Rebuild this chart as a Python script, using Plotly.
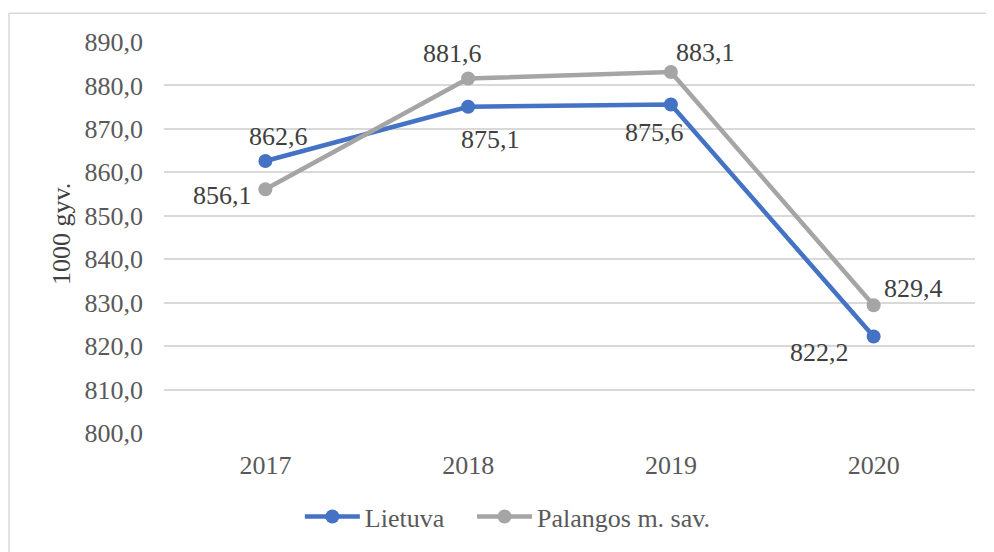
import plotly.graph_objects as go

years = ["2017", "2018", "2019", "2020"]
lietuva = [862.6, 875.1, 875.6, 822.2]
palanga = [856.1, 881.6, 883.1, 829.4]
y_ticks = [800, 810, 820, 830, 840, 850, 860, 870, 880, 890]

BLUE = "#4472C4"
GRAY = "#A5A5A5"
TXT = "#404040"
FONT = "Liberation Serif, Times New Roman, serif"

def fmt(v):
    return f"{v:.1f}".replace(".", ",")

fig = go.Figure()
fig.add_trace(go.Scatter(x=years, y=lietuva, name="Lietuva", mode="lines+markers", legend="legend",
                         line=dict(color=BLUE, width=4.5), marker=dict(size=14, color=BLUE)))
fig.add_trace(go.Scatter(x=years, y=palanga, name="Palangos m. sav.", mode="lines+markers", legend="legend2",
                         line=dict(color=GRAY, width=4.5), marker=dict(size=14, color=GRAY)))

# label offsets (px) for data labels
off_l = [(13, -25), (22, 33), (-16, 28), (-54, 16)]
off_p = [(-43, 6), (-16, -25), (35, -19), (40, -17)]
ann = []
for vals, offs in ((lietuva, off_l), (palanga, off_p)):
    for i, (yv, (dx, dy)) in enumerate(zip(vals, offs)):
        ann.append(dict(x=i, y=yv, xref="x", yref="y", text=fmt(yv), showarrow=False,
                        xanchor="center", yanchor="middle", xshift=dx, yshift=-dy,
                        font=dict(family=FONT, size=26, color=TXT)))
ann.append(dict(x=-0.1258, y=0.509, xref="paper", yref="paper", text="1000 gyv.", textangle=-90,
                xanchor="center", yanchor="middle",
                showarrow=False, font=dict(family=FONT, size=26, color=TXT)))

leg_common = dict(orientation="h", xanchor="left", y=-0.214, yanchor="middle",
                  font=dict(family=FONT, size=26, color="#595959"), itemwidth=55,
                  bgcolor="rgba(0,0,0,0)")

fig.update_layout(
    width=986, height=544,
    margin=dict(l=156, r=19, t=34, b=117),
    paper_bgcolor="white", plot_bgcolor="white",
    font=dict(family=FONT, size=26, color="#595959"),
    separators=",.",
    showlegend=True,
    legend=dict(x=0.1675, **leg_common),
    legend2=dict(x=0.3798, **leg_common),
    annotations=ann,
    shapes=[dict(type="rect", xref="paper", yref="paper", x0=-0.1911, x1=1.05, y0=-0.35, y1=1.0738,
                 line=dict(color="#D9D9D9", width=1.5), layer="below")],
)
fig.update_xaxes(type="category", range=[-0.5, 3.5], showgrid=False, showline=False, zeroline=False,
                 ticks="", ticklabelstandoff=14, tickfont=dict(family=FONT, size=26, color="#595959"))
fig.update_yaxes(range=[800, 890], tickvals=y_ticks, tickformat=".1f", showgrid=True,
                 gridcolor="#D9D9D9", gridwidth=1.5, zeroline=False, showline=False, ticks="",
                 ticklabelstandoff=20, tickfont=dict(family=FONT, size=26, color="#595959"))

fig.write_html("out.html")
